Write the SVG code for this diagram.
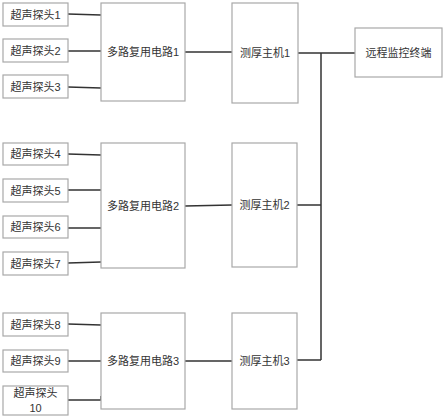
<svg xmlns="http://www.w3.org/2000/svg" width="443" height="418" viewBox="0 0 443 418">
<style>
.b{fill:#fff;stroke:#a8a8a8;stroke-width:1.2}
.t{font-family:"Liberation Sans","Noto Sans CJK SC",sans-serif;font-size:11px;fill:#333;text-anchor:middle;dominant-baseline:central}
.c{stroke:#333;stroke-width:1.5;fill:none}
</style>
<rect width="443" height="418" fill="#fff"/>
<g id="connectors">
<path class="c" d="M68 14L101 15M68 51H101M68 87L101 88"/>
<path class="c" d="M68 154L101 155M68 190H101M68 228H101M68 263L101 262"/>
<path class="c" d="M68 324L101 325M68 361H101M68 400H101V396"/>
<path class="c" d="M185 52H232M185 206L232 205M185 361H232"/>
<path class="c" d="M298 53H355M297 205H321M297 360H321M321 53V360"/>
</g>
<g id="p1"><rect class="b" x="3" y="3" width="65" height="23"/><text class="t" x="35.5" y="14.5">超声探头1</text></g>
<g id="p2"><rect class="b" x="3" y="39" width="65" height="23"/><text class="t" x="35.5" y="50.5">超声探头2</text></g>
<g id="p3"><rect class="b" x="3" y="75" width="65" height="23"/><text class="t" x="35.5" y="86.5">超声探头3</text></g>
<g id="p4"><rect class="b" x="3" y="143" width="65" height="22"/><text class="t" x="35.5" y="154">超声探头4</text></g>
<g id="p5"><rect class="b" x="3" y="179" width="65" height="23"/><text class="t" x="35.5" y="190.5">超声探头5</text></g>
<g id="p6"><rect class="b" x="3" y="216" width="65" height="22"/><text class="t" x="35.5" y="227">超声探头6</text></g>
<g id="p7"><rect class="b" x="3" y="252" width="65" height="23"/><text class="t" x="35.5" y="263.5">超声探头7</text></g>
<g id="p8"><rect class="b" x="3" y="313" width="65" height="23"/><text class="t" x="35.5" y="324.5">超声探头8</text></g>
<g id="p9"><rect class="b" x="3" y="350" width="65" height="22"/><text class="t" x="35.5" y="361">超声探头9</text></g>
<g id="p10"><rect class="b" x="3" y="386" width="65" height="29"/><text class="t" x="35.5" y="393">超声探头</text><text class="t" x="35.5" y="408">10</text></g>
<g id="m1"><rect class="b" x="101" y="3" width="84" height="98"/><text class="t" x="143" y="52">多路复用电路1</text></g>
<g id="m2"><rect class="b" x="101" y="143" width="84" height="125"/><text class="t" x="143" y="206">多路复用电路2</text></g>
<g id="m3"><rect class="b" x="101" y="313" width="84" height="96"/><text class="t" x="143" y="361">多路复用电路3</text></g>
<g id="h1"><rect class="b" x="232" y="3" width="66" height="100"/><text class="t" x="265" y="53">测厚主机1</text></g>
<g id="h2"><rect class="b" x="232" y="143" width="65" height="124"/><text class="t" x="264.5" y="205">测厚主机2</text></g>
<g id="h3"><rect class="b" x="232" y="313" width="65" height="96"/><text class="t" x="264.5" y="361">测厚主机3</text></g>
<g id="remote"><rect class="b" x="355" y="28" width="87" height="49"/><text class="t" x="398.5" y="53">远程监控终端</text></g>
</svg>
